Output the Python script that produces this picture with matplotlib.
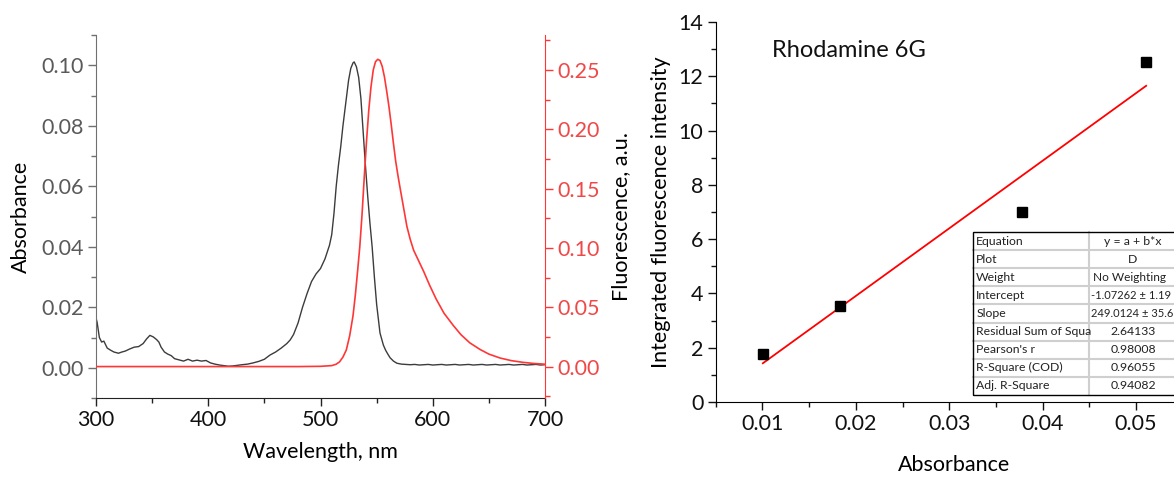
import matplotlib
matplotlib.use("Agg")
import matplotlib.pyplot as plt
from matplotlib.ticker import MultipleLocator, FormatStrFormatter
from matplotlib.patches import Rectangle
from matplotlib.lines import Line2D

plt.rcParams['font.family'] = ['Lato', 'DejaVu Sans']

# ---------------- data: left panel ----------------
abs_wl = [300, 301, 302, 303, 305, 307, 310, 313, 316, 320, 323, 326, 330, 334, 338, 342,
          345, 348, 351, 354, 356, 358, 361, 364, 367, 370, 374, 378, 382, 386, 390, 394,
          398, 402, 406, 410, 414, 418, 422, 426, 430, 435, 440, 445, 450, 455, 460, 465,
          470, 473, 476, 480, 484, 488, 492, 496, 500, 504, 508, 510, 512, 514, 516, 518,
          520, 522, 525, 527, 529, 530, 532, 534, 536, 538, 540, 542, 544, 546, 548, 550,
          553, 556, 558, 560, 562, 565, 568, 572, 576, 580, 584, 588, 592, 596, 600, 604,
          608, 612, 616, 620, 624, 628, 632, 636, 640, 644, 648, 652, 656, 660, 664, 668,
          672, 676, 680, 684, 688, 692, 696, 700]
abs_val = [0.0165, 0.0150, 0.0125, 0.0100, 0.0085, 0.0088, 0.0065, 0.0058, 0.0052, 0.0048,
           0.0052, 0.0055, 0.0062, 0.0068, 0.0070, 0.0080, 0.0095, 0.0107, 0.0102, 0.0093,
           0.0085, 0.0068, 0.0052, 0.0045, 0.0040, 0.0030, 0.0026, 0.0022, 0.0028, 0.0022,
           0.0025, 0.0022, 0.0024, 0.0016, 0.0012, 0.0009, 0.0007, 0.0005, 0.0006, 0.0008,
           0.0010, 0.0012, 0.0016, 0.0021, 0.0028, 0.0042, 0.0052, 0.0065, 0.0080, 0.0092,
           0.0110, 0.0148, 0.0200, 0.0245, 0.0285, 0.0310, 0.0328, 0.0360, 0.0405, 0.0440,
           0.0510, 0.0600, 0.0670, 0.0730, 0.0800, 0.0860, 0.0950, 0.0990, 0.1008, 0.1011,
           0.0995, 0.0960, 0.0890, 0.0780, 0.0670, 0.0570, 0.0480, 0.0400, 0.0300, 0.0210,
           0.0115, 0.0075, 0.0058, 0.0045, 0.0033, 0.0022, 0.0015, 0.0012, 0.0011, 0.0010,
           0.0011, 0.0009, 0.0010, 0.0011, 0.0009, 0.0010, 0.0011, 0.0009, 0.0010, 0.0011,
           0.0009, 0.0010, 0.0011, 0.0009, 0.0010, 0.0011, 0.0009, 0.0010, 0.0011, 0.0009,
           0.0010, 0.0011, 0.0009, 0.0010, 0.0011, 0.0009, 0.0010, 0.0011, 0.0009, 0.0010]

fl_wl = [300, 400, 480, 500, 510, 514, 517, 520, 523, 526, 529, 531, 533, 535, 537, 539,
         541, 543, 545, 547, 549, 551, 553, 555, 557, 559, 561, 563, 565, 567, 569, 571,
         574, 577, 580, 583, 587, 592, 597, 603, 610, 618, 625, 633, 642, 650, 660, 670,
         680, 690, 700]
fl_val = [0.0, 0.0, 0.0, 0.0002, 0.0008, 0.002, 0.004, 0.008, 0.014, 0.026, 0.043, 0.060,
          0.080, 0.101, 0.128, 0.160, 0.190, 0.216, 0.236, 0.250, 0.257, 0.259, 0.258, 0.253,
          0.244, 0.232, 0.219, 0.204, 0.188, 0.173, 0.161, 0.150, 0.134, 0.118, 0.107, 0.098,
          0.090, 0.080, 0.069, 0.057, 0.045, 0.035, 0.027, 0.020, 0.0145, 0.0105, 0.0072,
          0.0050, 0.0036, 0.0026, 0.0020]

# ---------------- data: right panel ----------------
conc_abs = [0.01004, 0.01829, 0.03777, 0.05109]
int_fl = [1.76, 3.55, 6.99, 12.52]
fit_intercept = -1.07262
fit_slope = 249.0124
table_keys = ["Equation", "Plot", "Weight", "Intercept", "Slope",
              "Residual Sum of Squa", "Pearson's r", "R-Square (COD)", "Adj. R-Square"]
table_vals = ["y = a + b*x", "D", "No Weighting", "-1.07262 ± 1.19", "249.0124 ± 35.6",
              "2.64133", "0.98008", "0.96055", "0.94082"]

W, H = 1174, 478
fig = plt.figure(figsize=(W / 100, H / 100), dpi=100)

def fbox(l, t, r, b):
    return [l / W, 1 - b / H, (r - l) / W, (b - t) / H]

GRAY = '#5a5a5a'
RED = '#ff3636'
REDTXT = '#f04848'
FS = 15.5
TFS = 8.8

# ---------------- left panel ----------------
ax1 = fig.add_axes(fbox(96, 35, 545, 398))
ax1.plot(abs_wl, abs_val, color='#3c3c3c', lw=1.0)
ax1.set_xlim(300, 700)
ax1.set_ylim(-0.01, 0.11)
ax1.xaxis.set_major_locator(MultipleLocator(100))
ax1.xaxis.set_minor_locator(MultipleLocator(50))
ax1.yaxis.set_major_locator(MultipleLocator(0.02))
ax1.yaxis.set_minor_locator(MultipleLocator(0.01))
ax1.yaxis.set_major_formatter(FormatStrFormatter('%.2f'))
for s in ['top', 'right']:
    ax1.spines[s].set_visible(False)
ax1.spines['left'].set_color('#707070')
ax1.spines['bottom'].set_color('#222222')
ax1.tick_params(axis='y', which='both', colors='#707070', labelcolor=GRAY, labelsize=FS,
                direction='out')
ax1.tick_params(axis='x', which='both', colors='#222222', labelcolor='#111111', labelsize=FS,
                direction='out')
ax1.tick_params(which='major', length=6, width=1, pad=3)
ax1.tick_params(which='minor', length=3.5, width=1)
ax1.set_xlabel("Wavelength, nm", fontsize=FS, labelpad=8)
ax1.set_ylabel("Absorbance", fontsize=FS, labelpad=7)

ax2 = ax1.twinx()
ax2.plot(fl_wl, fl_val, color=RED, lw=1.2)
ax2.set_ylim(-0.0265, 0.2795)
ax2.yaxis.set_major_locator(MultipleLocator(0.05))
ax2.yaxis.set_minor_locator(MultipleLocator(0.025))
ax2.yaxis.set_major_formatter(FormatStrFormatter('%.2f'))
for s in ['top', 'left', 'bottom']:
    ax2.spines[s].set_visible(False)
ax2.spines['right'].set_color(RED)
ax2.tick_params(axis='y', which='both', colors=RED, labelcolor=REDTXT, labelsize=FS)
ax2.tick_params(which='major', length=6, width=1, pad=3)
ax2.tick_params(which='minor', length=3.5, width=1)
ax2.set_ylabel("Fluorescence, a.u.", fontsize=FS, labelpad=8)

# ---------------- right panel ----------------
ax3 = fig.add_axes(fbox(715.8, 22, 1192, 402))
ax3.set_xlim(0.005, 0.056)
ax3.set_ylim(0, 14)
fx = [min(conc_abs), max(conc_abs)]
fy = [fit_intercept + fit_slope * v for v in fx]
ax3.plot(fx, fy, color='#ff0000', lw=1.3, zorder=2)
ax3.plot(conc_abs, int_fl, linestyle='none', marker='s', color='black', markersize=7, zorder=3)
ax3.xaxis.set_major_locator(MultipleLocator(0.01))
ax3.xaxis.set_minor_locator(MultipleLocator(0.005))
ax3.xaxis.set_major_formatter(FormatStrFormatter('%.2f'))
ax3.yaxis.set_major_locator(MultipleLocator(2))
ax3.yaxis.set_minor_locator(MultipleLocator(1))
for s in ['top', 'right']:
    ax3.spines[s].set_visible(False)
ax3.tick_params(which='both', colors='#111111', labelsize=FS, direction='out')
ax3.tick_params(which='major', length=6, width=1, pad=3)
ax3.tick_params(which='minor', length=3.5, width=1)
ax3.set_xlabel("Absorbance", fontsize=FS, labelpad=15)
ax3.set_ylabel("Integrated fluorescence intensity", fontsize=FS, labelpad=5)
ax3.text(0.0110, 12.95, "Rhodamine 6G", fontsize=FS + 1.5, ha='left', va='center', color='#111111')

# table (figure pixel coordinates)
t_left, t_top, t_bot, t_div, t_right = 973.3, 232, 395, 1089.3, 1183
row_h = (t_bot - t_top) / len(table_keys)
fig.add_artist(Rectangle((t_left / W, 1 - t_bot / H), (t_right - t_left) / W,
                         (t_bot - t_top) / H, transform=fig.transFigure,
                         facecolor='white', edgecolor='none', zorder=5))
for i in range(1, len(table_keys)):
    yy = 1 - (t_top + i * row_h) / H
    fig.add_artist(Line2D([t_left / W, t_right / W], [yy, yy], transform=fig.transFigure,
                          color='#cfcfcf', lw=1.5, zorder=6))
fig.add_artist(Line2D([t_div / W, t_div / W], [1 - t_top / H, 1 - t_bot / H],
                      transform=fig.transFigure, color='#cfcfcf', lw=1.5, zorder=6))
fig.add_artist(Rectangle((t_left / W, 1 - t_bot / H), (t_right - t_left) / W,
                         (t_bot - t_top) / H, transform=fig.transFigure,
                         facecolor='none', edgecolor='black', lw=1.0, zorder=7))
for i, (k, v) in enumerate(zip(table_keys, table_vals)):
    yc = 1 - (t_top + (i + 0.5) * row_h) / H
    fig.text((t_left + 3) / W, yc, k, fontsize=TFS, ha='left', va='center',
             color='#222222', zorder=8)
    if '±' in v:
        fig.text((t_div + 2) / W, yc, v, fontsize=8.0, ha='left', va='center',
                 color='#222222', zorder=8)
    elif v == "No Weighting":
        fig.text((t_div + 4) / W, yc, v, fontsize=8.6, ha='left', va='center',
                 color='#222222', zorder=8)
    else:
        fig.text(1133 / W, yc, v, fontsize=TFS, ha='center', va='center',
                 color='#222222', zorder=8)

fig.savefig("out.png", dpi=100)
